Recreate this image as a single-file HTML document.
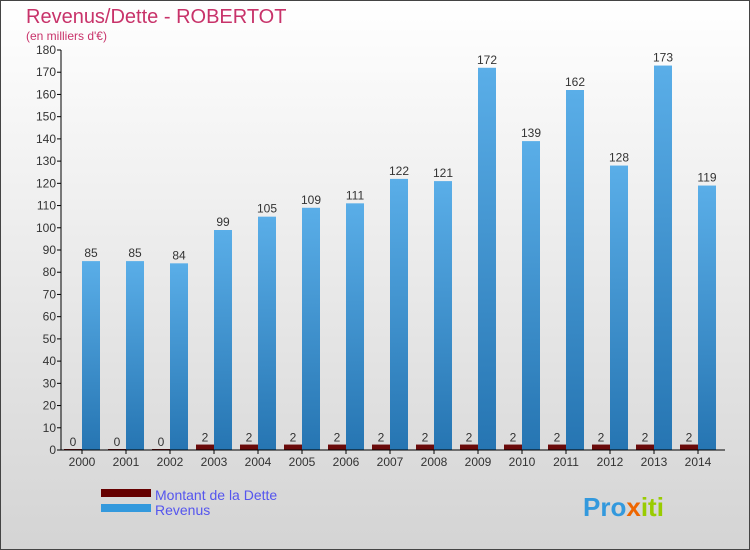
<!DOCTYPE html>
<html><head><meta charset="utf-8"><style>
body{margin:0}
#c{width:750px;height:550px;position:relative;overflow:hidden}
text{font-family:"Liberation Sans",sans-serif}
</style></head><body>
<div id="c">
<svg id="s" width="750" height="550" xmlns="http://www.w3.org/2000/svg">
<defs>
<linearGradient id="bg" x1="0" y1="0" x2="0" y2="1"><stop offset="0" stop-color="#ffffff"/><stop offset="1" stop-color="#d4d4d4"/></linearGradient>
<linearGradient id="rev" x1="0" y1="0" x2="0" y2="1"><stop offset="0" stop-color="#5aaee8"/><stop offset="1" stop-color="#2675b2"/></linearGradient>
</defs>
<rect x="0.5" y="0.5" width="749" height="549" fill="url(#bg)" stroke="#444"/>
<text x="26" y="23" font-size="20" fill="#c8336a">Revenus/Dette - ROBERTOT</text>
<text x="26" y="40" font-size="12" fill="#c8336a">(en milliers d'€)</text>
<g id="plot"></g>
<rect x="101" y="489" width="50" height="8" fill="#660000"/>
<text x="155" y="500" font-size="14" fill="#5555ee">Montant de la Dette</text>
<rect x="101" y="504" width="50" height="8" fill="#3399dd"/>
<text x="155" y="515" font-size="14" fill="#5555ee">Revenus</text>
<text x="583" y="516" font-size="26" font-weight="bold" fill="#3399dd">Pro<tspan fill="#ee6600">x</tspan><tspan fill="#99cc00">iti</tspan></text>
</svg>
</div>
<script>
const years=["2000","2001","2002","2003","2004","2005","2006","2007","2008","2009","2010","2011","2012","2013","2014"];
const revenus=[85,85,84,99,105,109,111,122,121,172,139,162,128,173,119];
const dette=[0,0,0,2,2,2,2,2,2,2,2,2,2,2,2];
const yTicks=[0,10,20,30,40,50,60,70,80,90,100,110,120,130,140,150,160,170,180];
const NS="http://www.w3.org/2000/svg";
const g=document.getElementById('plot');
const y=v=>450-v*400/180;
const x0=i=>64+i*44;
function el(t,a,txt){const e=document.createElementNS(NS,t);for(const k in a)e.setAttribute(k,a[k]);if(txt!==undefined)e.textContent=txt;g.appendChild(e);return e;}
yTicks.forEach(v=>{
const l=el('line',{x1:57,x2:61,y1:y(v),y2:y(v),stroke:'#000'});


const t=el('text',{x:56,y:y(v)+4,'font-size':12,fill:'#333','text-anchor':'end'},v);


});
years.forEach((yr,i)=>{
const xd=x0(i),xr=x0(i)+18;
const db=el('rect',{x:xd,y:y(dette[i])-1,width:18,height:Math.max(450-y(dette[i]),0)+1,fill:'#6a0a0a'});


const rb=el('rect',{x:xr,y:y(revenus[i]),width:18,height:450-y(revenus[i]),fill:'url(#rev)'});


const dl=el('text',{x:xd+9,y:y(dette[i])-4,'font-size':12,fill:'#333','text-anchor':'middle'},dette[i]);


const rl=el('text',{x:xr+9,y:y(revenus[i])-4,'font-size':12,fill:'#333','text-anchor':'middle'},revenus[i]);


const tk=el('line',{x1:xr,x2:xr,y1:450,y2:454,stroke:'#000'});


const xl=el('text',{x:xr,y:466,'font-size':12,fill:'#333','text-anchor':'middle'},yr);


});
const ya=el('line',{x1:61,x2:61,y1:y(180),y2:450,stroke:'#000'});


const xa=el('line',{x1:61,x2:725,y1:450,y2:450,stroke:'#000'});


</script>
</body></html>
